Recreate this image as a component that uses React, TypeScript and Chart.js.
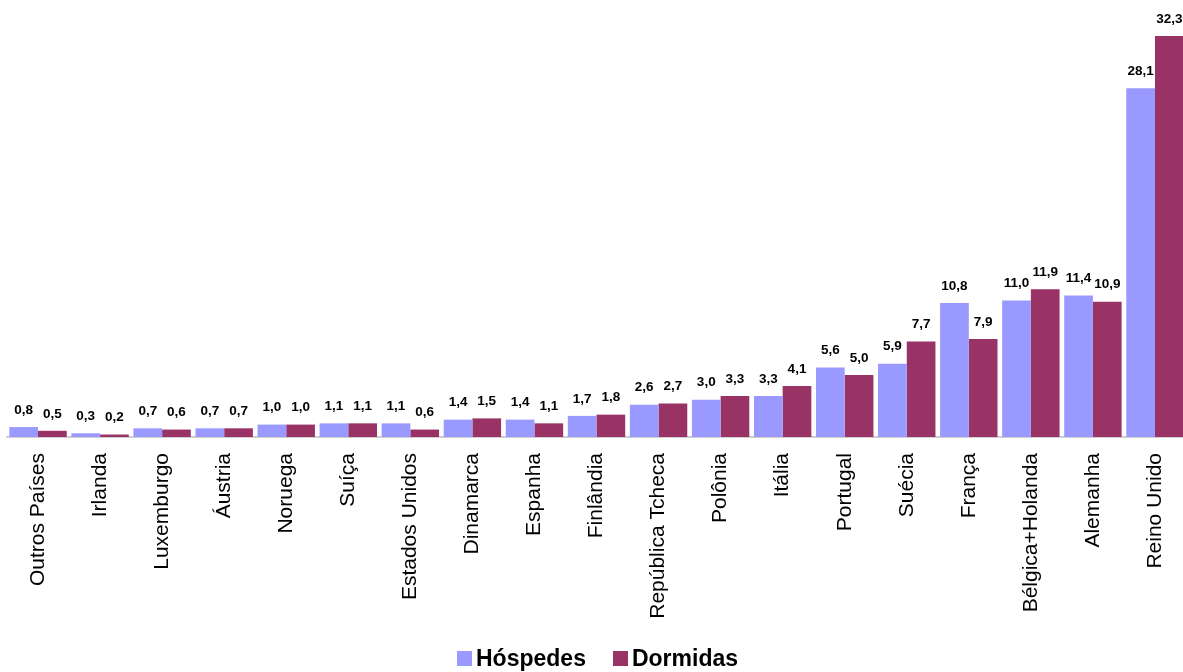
import React, { useEffect, useRef } from "react";
import { Chart, registerables } from "chart.js";

Chart.register(...registerables);

const categories = [
  "Outros Países", "Irlanda", "Luxemburgo", "Áustria", "Noruega", "Suíça",
  "Estados Unidos", "Dinamarca", "Espanha", "Finlândia", "República Tcheca",
  "Polônia", "Itália", "Portugal", "Suécia", "França", "Bélgica+Holanda",
  "Alemanha", "Reino Unido",
];
const hospedes = [0.8, 0.3, 0.7, 0.7, 1.0, 1.1, 1.1, 1.4, 1.4, 1.7, 2.6, 3.0, 3.3, 5.6, 5.9, 10.8, 11.0, 11.4, 28.1];
const dormidas = [0.5, 0.2, 0.6, 0.7, 1.0, 1.1, 0.6, 1.5, 1.1, 1.8, 2.7, 3.3, 4.1, 5.0, 7.7, 7.9, 11.9, 10.9, 32.3];
const seriesNames = ["Hóspedes", "Dormidas"];
const seriesColors = ["#9999FF", "#993366"];

const FONT = "'Liberation Sans', Arial, sans-serif";

const valueLabels = {
  id: "valueLabels",
  afterDatasetsDraw(chart: any) {
    const ctx = chart.ctx;
    ctx.save();
    ctx.font = `bold 13.5px ${FONT}`;
    ctx.fillStyle = "#000";
    ctx.textAlign = "center";
    ctx.textBaseline = "middle";
    chart.data.datasets.forEach((ds: any, di: number) => {
      const meta = chart.getDatasetMeta(di);
      meta.data.forEach((bar: any, i: number) => {
        const v = ds.data[i] as number;
        ctx.fillText(v.toFixed(1).replace(".", ","), bar.x, bar.y - 17);
      });
    });
    ctx.restore();
  },
};

export default function App() {
  const ref = useRef<HTMLCanvasElement>(null);
  useEffect(() => {
    if (!ref.current) return;
    const chart = new Chart(ref.current, {
      type: "bar",
      data: {
        labels: categories,
        datasets: [
          { label: seriesNames[0], data: hospedes, backgroundColor: seriesColors[0] },
          { label: seriesNames[1], data: dormidas, backgroundColor: seriesColors[1] },
        ],
      },
      options: {
        responsive: false,
        animation: false,
        devicePixelRatio: 1,
        layout: { padding: { top: 15, left: 7, right: 0, bottom: 0 } },
        datasets: { bar: { categoryPercentage: 0.925, barPercentage: 1 } },
        plugins: { legend: { display: false }, tooltip: { enabled: false } },
        scales: {
          x: {
            grid: { display: false, drawTicks: false },
            border: { display: true, color: "#cfcfcf", width: 2 },
            ticks: {
              autoSkip: false,
              maxRotation: 90,
              minRotation: 90,
              padding: 16,
              color: "#000",
              font: { family: FONT, size: 21 },
            },
            afterFit: (s: any) => {
              s.height = 235;
              s.paddingLeft = 0;
              s.paddingRight = 0;
            },
          },
          y: { display: false, min: 0, max: 34 },
        },
      },
      plugins: [valueLabels],
    });
    return () => chart.destroy();
  }, []);

  return (
    <div style={{ position: "fixed", top: 0, left: 0, width: 1183, height: 672, overflow: "hidden", background: "#fff" }}>
      <canvas ref={ref} width={1186} height={672} style={{ width: 1186, height: 672, display: "block" }} />
      <div style={{ position: "absolute", left: 457, top: 644, display: "flex", alignItems: "center", fontFamily: FONT, fontWeight: "bold", fontSize: 23, color: "#000", lineHeight: "28px" }}>
        {seriesNames.map((n, i) => (
          <div key={n} style={{ display: "flex", alignItems: "center", marginRight: i === 0 ? 27 : 0 }}>
            <span style={{ display: "inline-block", width: 15, height: 15, background: seriesColors[i], marginRight: 4 }} />
            <span>{n}</span>
          </div>
        ))}
      </div>
    </div>
  );
}
